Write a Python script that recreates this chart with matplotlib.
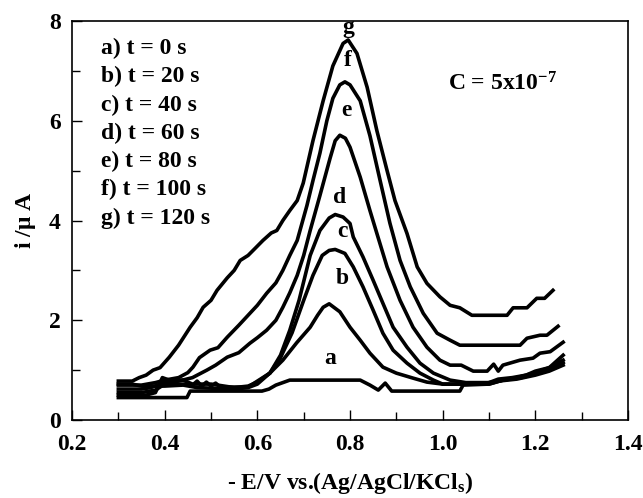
import matplotlib
matplotlib.use("Agg")
import matplotlib.pyplot as plt

plt.rcParams['font.family'] = ['Liberation Serif', 'DejaVu Serif']
plt.rcParams['font.weight'] = 'bold'
plt.rcParams['mathtext.fontset'] = 'custom'
plt.rcParams['mathtext.rm'] = 'Liberation Serif:bold'
plt.rcParams['mathtext.it'] = 'Liberation Serif:bold'
plt.rcParams['mathtext.bf'] = 'Liberation Serif:bold'

# ---- data ----
g_x = [0.30,0.33,0.345,0.36,0.375,0.39,0.41,0.43,0.455,0.47,0.483,0.5,0.513,0.535,0.55,0.563,0.58,0.595,0.612,0.63,0.642,0.655,0.67,0.686,0.699,0.72,0.742,0.763,0.785,0.796,0.815,0.837,0.858,0.88,0.897,0.923,0.945,0.966,0.994,1.016,1.037,1.063,1.139,1.152,1.182,1.203,1.22,1.238]
g_y = [0.78,0.78,0.85,0.9,1.0,1.05,1.26,1.5,1.86,2.05,2.26,2.4,2.6,2.85,3.0,3.2,3.3,3.44,3.6,3.75,3.8,4.0,4.2,4.4,4.75,5.6,6.4,7.1,7.55,7.62,7.35,6.67,5.8,5.0,4.4,3.74,3.07,2.74,2.47,2.3,2.25,2.1,2.1,2.25,2.25,2.44,2.44,2.6]

f_x = [0.30,0.35,0.38,0.40,0.43,0.45,0.461,0.475,0.498,0.515,0.535,0.56,0.584,0.6,0.62,0.64,0.655,0.67,0.686,0.707,0.72,0.735,0.75,0.763,0.778,0.789,0.8,0.822,0.843,0.865,0.886,0.908,0.93,0.958,0.988,1.016,1.037,1.167,1.182,1.21,1.225,1.249]
f_y = [0.7,0.7,0.75,0.8,0.85,0.95,1.06,1.25,1.4,1.45,1.66,1.9,2.14,2.3,2.54,2.75,3.0,3.3,3.6,4.3,4.8,5.35,6.0,6.45,6.72,6.78,6.72,6.4,5.7,4.8,3.95,3.2,2.67,2.14,1.74,1.6,1.5,1.5,1.64,1.7,1.7,1.88]

e_x = [0.30,0.35,0.37,0.40,0.43,0.46,0.491,0.51,0.535,0.56,0.584,0.6,0.62,0.64,0.655,0.67,0.686,0.7,0.714,0.735,0.757,0.768,0.778,0.79,0.8,0.822,0.843,0.858,0.88,0.908,0.936,0.966,0.994,1.016,1.04,1.066,1.096,1.11,1.12,1.13,1.167,1.195,1.21,1.232,1.26]
e_y = [0.62,0.62,0.65,0.75,0.78,0.85,1.0,1.1,1.26,1.35,1.54,1.65,1.8,2.0,2.26,2.55,2.9,3.3,3.8,4.5,5.25,5.6,5.71,5.65,5.47,4.87,4.2,3.74,3.07,2.4,1.86,1.46,1.2,1.1,1.1,0.98,0.98,1.12,0.98,1.1,1.2,1.24,1.34,1.37,1.56]

d_x = [0.30,0.35,0.38,0.40,0.45,0.46,0.47,0.48,0.49,0.50,0.51,0.52,0.58,0.6,0.627,0.65,0.67,0.69,0.714,0.735,0.755,0.768,0.785,0.8,0.807,0.828,0.85,0.871,0.893,0.923,0.951,0.98,1.016,1.05,1.1,1.12,1.15,1.18,1.2,1.23,1.26]
d_y = [0.55,0.55,0.6,0.72,0.72,0.7,0.78,0.68,0.76,0.68,0.74,0.66,0.66,0.78,0.94,1.3,1.8,2.4,3.3,3.8,4.05,4.12,4.07,3.94,3.67,3.27,2.8,2.34,1.86,1.46,1.14,0.94,0.8,0.75,0.75,0.82,0.85,0.9,0.98,1.05,1.3]

c_x = [0.30,0.36,0.38,0.395,0.41,0.44,0.46,0.5,0.55,0.58,0.6,0.627,0.65,0.675,0.7,0.72,0.74,0.755,0.768,0.789,0.807,0.828,0.85,0.871,0.893,0.923,0.951,0.98,1.0,1.1,1.13,1.16,1.2,1.23,1.26]
c_y = [0.5,0.5,0.55,0.85,0.8,0.8,0.72,0.72,0.65,0.68,0.76,0.94,1.25,1.75,2.4,2.9,3.3,3.4,3.42,3.34,3.07,2.67,2.2,1.74,1.4,1.14,0.94,0.8,0.72,0.72,0.8,0.85,0.95,1.05,1.2]

b_x = [0.30,0.33,0.35,0.40,0.44,0.47,0.55,0.58,0.6,0.627,0.655,0.685,0.714,0.73,0.742,0.755,0.778,0.8,0.822,0.843,0.871,0.9,0.936,0.966,1.0,1.08,1.12,1.16,1.2,1.23,1.26]
b_y = [0.72,0.72,0.68,0.68,0.7,0.65,0.62,0.65,0.72,0.94,1.2,1.55,1.86,2.1,2.26,2.33,2.17,1.86,1.6,1.34,1.06,0.94,0.84,0.76,0.72,0.72,0.78,0.82,0.9,0.98,1.1]

a_x = [0.30,0.448,0.455,0.61,0.625,0.64,0.67,0.822,0.843,0.861,0.876,0.89,1.037,1.044,1.1,1.13,1.17,1.2,1.23,1.26]
a_y = [0.45,0.45,0.58,0.58,0.62,0.7,0.8,0.8,0.7,0.6,0.74,0.58,0.58,0.7,0.72,0.8,0.85,0.92,1.0,1.15]

curves = [(a_x, a_y), (b_x, b_y), (c_x, c_y), (d_x, d_y), (e_x, e_y), (f_x, f_y), (g_x, g_y)]

curve_labels = ['a', 'b', 'c', 'd', 'e', 'f', 'g']
label_x = [0.757, 0.783, 0.783, 0.778, 0.793, 0.796, 0.796]
label_y = [1.24, 2.84, 3.77, 4.47, 6.21, 7.21, 7.88]

legend_lines = ['a) t = 0 s', 'b) t = 20 s', 'c) t = 40 s', 'd) t = 60 s',
                'e) t = 80 s', 'f) t = 100 s', 'g) t = 120 s']

x_ticks = [0.2, 0.4, 0.6, 0.8, 1.0, 1.2, 1.4]
x_tick_labels = ['0.2', '0.4', '0.6', '0.8', '1.0', '1.2', '1.4']
y_ticks = [0, 2, 4, 6, 8]

FS = 17

fig = plt.figure(figsize=(6.43, 4.98), dpi=100)
ax = fig.add_axes([0.112, 0.1566, 0.8647, 0.8012])

for xs, ys in curves:
    ax.plot(xs, ys, color='black', lw=2.6, solid_joinstyle='round')

for lab, lx, ly in zip(curve_labels, label_x, label_y):
    ax.text(lx, ly, lab, fontsize=FS, fontweight='bold', ha='center', va='center')

for i, line in enumerate(legend_lines):
    ax.text(0.262, 7.45 - i * 0.567, line, fontsize=FS, fontweight='bold', ha='left', va='center')

ax.text(1.012, 6.73, r'C = 5x10$^{-7}$', fontsize=FS, fontweight='bold', ha='left', va='center')

ax.set_xlim(0.2, 1.4)
ax.set_ylim(0, 8)
ax.set_xticks(x_ticks)
ax.set_xticklabels(x_tick_labels)
ax.set_yticks(y_ticks)
ax.set_xticks([0.3, 0.5, 0.7, 0.9, 1.1, 1.3], minor=True)
ax.set_yticks([1, 3, 5, 7], minor=True)
ax.tick_params(which='both', direction='in', top=False, right=False, labelsize=FS, width=1)
ax.tick_params(which='major', length=7)
ax.tick_params(which='minor', length=6)
ax.tick_params(axis='x', pad=10)
ax.tick_params(axis='y', pad=8)
for lbl in ax.get_xticklabels() + ax.get_yticklabels():
    lbl.set_fontweight('bold')
for s in ax.spines.values():
    s.set_linewidth(1.2)

ax.set_xlabel(r'- E/V vs.(Ag/AgCl/KCl$_{\rm s}$)', fontsize=FS, fontweight='bold', labelpad=11)
ax.set_ylabel(r'i /$\mu$ A', fontsize=FS, fontweight='bold', labelpad=8)

fig.savefig('out.png', dpi=100)
